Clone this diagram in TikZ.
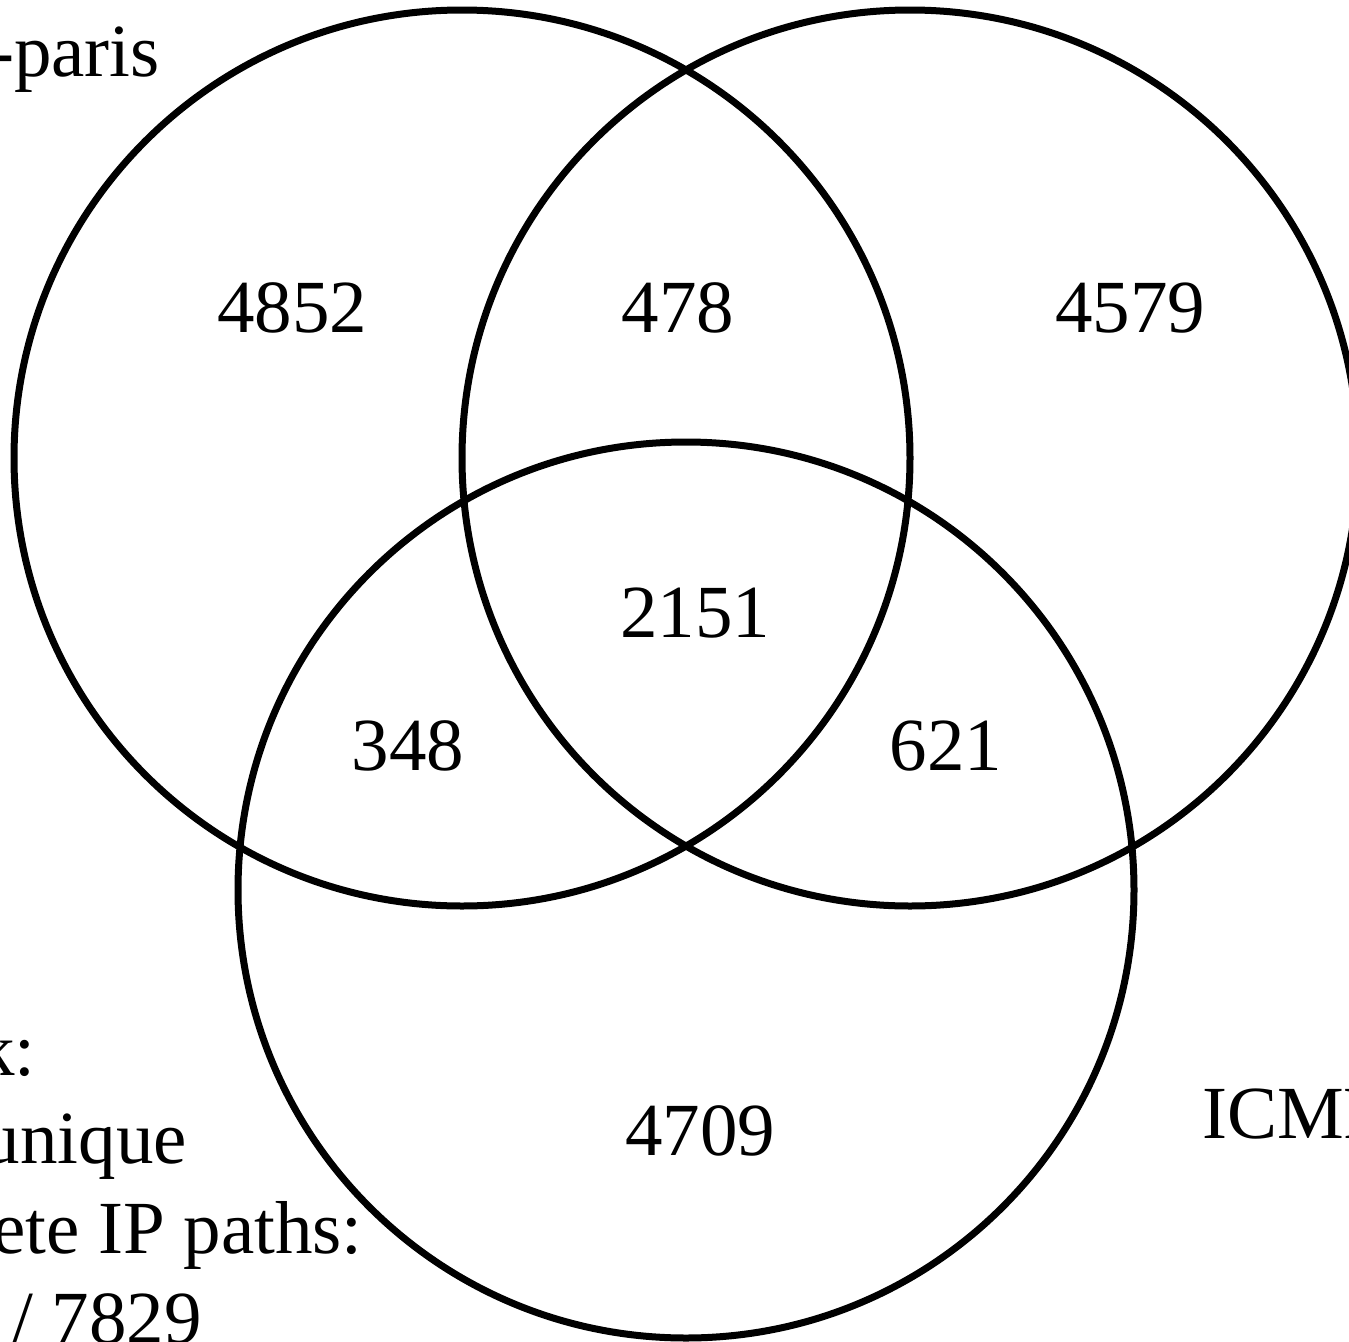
\documentclass[tikz,border=0pt]{standalone}
\usepackage{fontspec}
\setmainfont{Liberation Serif}
\usepackage{tikz}
\usetikzlibrary{positioning,calc}

\begin{document}
\begin{tikzpicture}[x=1pt, y=-1pt,
    venn/.style={circle, draw, line width=7pt, minimum size=896pt, inner sep=0pt},
    count/.style={anchor=base, inner sep=0pt, font=\fontsize{75}{90}\selectfont},
    tag/.style={anchor=base east, inner sep=0pt, font=\fontsize{75}{90}\selectfont}]
    \useasboundingbox (0,0) rectangle (1349,1341);
    \clip (0,0) rectangle (1349,1341);
    % the three sets
    \node[venn] (setA) at (462,458) {};
    \node[venn] (setB) at (910,458) {};
    \node[venn] (setC) at (686,890) {};
    % region counts
    \node[count] (onlyA) at (292,332) {4852};
    \node[count] (AB) at (678,332) {478};
    \node[count] (onlyB) at (1130,332) {4579};
    \node[count] (ABC) at (695,637) {2151};
    \node[count] (AC) at (408,770) {348};
    \node[count] (BC) at (946,770) {621};
    \node[count] (onlyC) at (700,1155) {4709};
    % set names and note
    \node[tag] (nameA) at (160,76) {-paris};
    \node[anchor=base west, inner sep=0pt, font=\fontsize{75}{90}\selectfont] (nameC) at (1202,1138) {ICMP};
    \node[tag] (noteA) at (36,1075) {k:};
    \node[tag] (noteB) at (187,1163) {unique};
    \node[tag] (noteC) at (363,1253) {ete IP paths:};
    \node[tag] (noteD) at (202,1343) {/ 7829};
\end{tikzpicture}
\end{document}
